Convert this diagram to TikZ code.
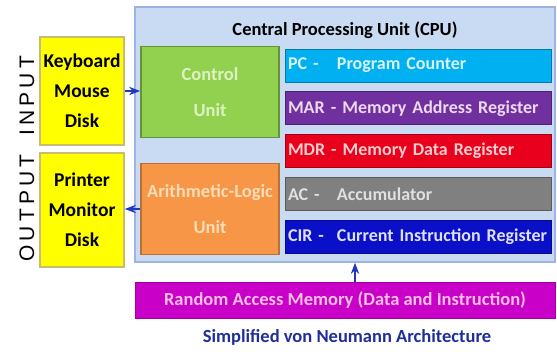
\documentclass[tikz,border=0pt]{standalone}
\usepackage{fontspec}
\setmainfont{Carlito}
\newfontfamily\sidefont[LetterSpace=20]{Liberation Sans}
\usepackage{xcolor}
\definecolor{cpuBlue}{HTML}{C9DAF3}
\definecolor{cpuEdge}{HTML}{9DB3E3}
\definecolor{ctrlGreen}{HTML}{92D050}
\definecolor{ctrlText}{HTML}{DDF2C0}
\definecolor{aluOrange}{HTML}{F79646}
\definecolor{aluText}{HTML}{FCDDB8}
\definecolor{pcCyan}{HTML}{00B0F0}
\definecolor{marPurple}{HTML}{7030A0}
\definecolor{mdrRed}{HTML}{E8001C}
\definecolor{acGrey}{HTML}{808080}
\definecolor{cirBlue}{HTML}{0A10C8}
\definecolor{ramMagenta}{HTML}{C800C8}
\definecolor{ioYellow}{HTML}{FFFF00}
\definecolor{ioEdge}{HTML}{C8BC70}
\definecolor{linkBlue}{HTML}{2038C0}
\definecolor{captionBlue}{HTML}{1E2E9A}
\usetikzlibrary{arrows.meta, positioning}

\begin{document}
\begin{tikzpicture}[
		x=1pt, y=-1pt,
		node distance=9pt,
		unit/.style={
			draw,
			line width=1.6pt,
			minimum width=138pt,
			minimum height=91pt,
			align=center,
			inner sep=0pt,
			font=\fontsize{18.5}{36}\selectfont\bfseries
		},
		iobox/.style={
			draw=ioEdge,
			fill=ioYellow,
			line width=1.6pt,
			minimum width=84pt,
			align=center,
			inner sep=0pt,
			font=\fontsize{19.5}{30}\selectfont\bfseries
		},
		regbox/.style={
			draw=#1!70!black,
			fill=#1,
			line width=0.8pt,
			minimum width=266pt,
			minimum height=33pt,
			text width=260pt,
			inner xsep=3pt,
			align=left,
			font=\fontsize{18}{20}\selectfont\bfseries
		},
		arrow/.style={-Stealth, line width=1.8pt, draw=linkBlue}
		]
		
		\useasboundingbox (0,0) rectangle (557,351);
		
		% CPU frame and title
		\node[draw=cpuEdge, fill=cpuBlue, line width=1.6pt, minimum width=420pt, minimum height=255pt] (cpu) at (345,134.5) {};
		\node[font=\fontsize{18.5}{20}\selectfont\bfseries] (cputitle) at (345,30) {Central Processing Unit (CPU)};
		
		\node[unit, fill=ctrlGreen, draw=ctrlGreen!70!black, text=ctrlText] (ctrl) at (210,92) {Control\\Unit};
		\node[unit, fill=aluOrange, draw=aluOrange!75!black, text=aluText] (alu) at (210,209) {Arithmetic-Logic\\Unit};
		
		% registers
		\node[regbox=pcCyan, text=cyan!15] (pc) at (418,65.5) {\makebox[49pt][l]{PC -}Program Counter};
		\node[regbox=marPurple, text=violet!15, below=of pc] (mar) {MAR - Memory Address Register};
		\node[regbox=mdrRed, text=red!20, below=of mar] (mdr) {MDR - Memory Data Register};
		\node[regbox=acGrey, text=white!88!black, below=of mdr] (ac) {\makebox[49pt][l]{AC -}Accumulator};
		\node[regbox=cirBlue, text=blue!12, below=of ac] (cir) {\makebox[49pt][l]{CIR -}Current Instruction Register};
		
		% input and output devices
		\node[iobox, minimum height=108pt] (inbox) at (82,91) {Keyboard\\Mouse\\Disk};
		\node[iobox, minimum height=114pt] (outbox) at (82,210) {Printer\\Monitor\\Disk};
		\node[rotate=90, font=\fontsize{21}{24}\sidefont] (inlabel) at (27,96) {INPUT};
		\node[rotate=90, font=\fontsize{21}{24}\sidefont] (outlabel) at (27,208) {OUTPUT};
		
		% memory and caption
		\node[fill=ramMagenta, draw=ramMagenta!80!black, line width=1pt, minimum width=420pt, minimum height=36pt, text=magenta!25, font=\fontsize{18.5}{20}\selectfont\bfseries] (ram) at (345,300.5) {Random Access Memory (Data and Instruction)};
		\node[text=captionBlue, font=\fontsize{18.5}{20}\selectfont\bfseries] (caption) at (347,337) {Simplified von Neumann Architecture};
		
		\coordinate (memx) at (355,0);
		
		\draw[arrow] (inbox.east) -- (inbox.east -| ctrl.west);
		\draw[arrow] (alu.west) -- (alu.west -| outbox.east);
		\draw[arrow] (ram.north -| memx) -- (cpu.south -| memx);
		
	\end{tikzpicture}
\end{document}
